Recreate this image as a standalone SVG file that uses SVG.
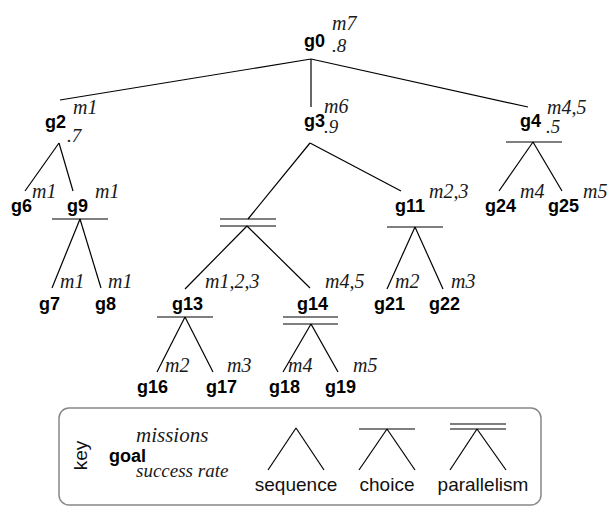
<svg xmlns="http://www.w3.org/2000/svg" width="614" height="508" viewBox="0 0 614 508">
<style>
.g{font-family:"Liberation Sans",Arial,sans-serif;font-weight:bold;font-size:18px;fill:#000}
.m{font-family:"Liberation Serif","Times New Roman",serif;font-style:italic;font-size:20px;fill:#1a1a1a}
.r{font-family:"Liberation Serif","Times New Roman",serif;font-style:italic;font-size:19px;fill:#1a1a1a}
.k{font-family:"Liberation Sans",Arial,sans-serif;font-size:19px;fill:#111}
line{stroke:#000;stroke-width:1.2;fill:none}
</style>
<rect width="614" height="508" fill="#fff"/>
<g id="connectors">
<line x1="311" y1="59" x2="60" y2="100"/>
<line x1="311" y1="59" x2="311" y2="107"/>
<line x1="311" y1="59" x2="528" y2="107"/>
<line x1="59" y1="143" x2="25" y2="191"/>
<line x1="59" y1="143" x2="73" y2="191"/>
<line x1="310" y1="143" x2="248" y2="219"/>
<line x1="310" y1="143" x2="401" y2="191"/>
<line x1="506" y1="142" x2="562" y2="142"/>
<line x1="533" y1="142" x2="499" y2="191"/>
<line x1="533" y1="142" x2="562" y2="191"/>
<line x1="52" y1="219" x2="108" y2="219"/>
<line x1="80" y1="219" x2="52" y2="288"/>
<line x1="80" y1="219" x2="101" y2="288"/>
<line x1="220" y1="219" x2="276" y2="219"/>
<line x1="220" y1="226" x2="276" y2="226"/>
<line x1="247" y1="226" x2="185" y2="289"/>
<line x1="247" y1="226" x2="310" y2="288"/>
<line x1="387" y1="227" x2="443" y2="227"/>
<line x1="415" y1="227" x2="387" y2="289"/>
<line x1="415" y1="227" x2="443" y2="289"/>
<line x1="157" y1="317" x2="213" y2="317"/>
<line x1="185" y1="317" x2="157" y2="372"/>
<line x1="185" y1="317" x2="213" y2="372"/>
<line x1="283" y1="317" x2="338" y2="317"/>
<line x1="283" y1="324" x2="338" y2="324"/>
<line x1="311" y1="324" x2="283" y2="372"/>
<line x1="311" y1="324" x2="338" y2="372"/>
</g>
<g id="g0"><text class="g" x="304" y="47">g0</text><text class="m" x="332" y="30">m7</text><text class="r" x="332" y="52">.8</text></g>
<g id="g2"><text class="g" x="45" y="128">g2</text><text class="m" x="73" y="114">m1</text><text class="r" x="67" y="142">.7</text></g>
<g id="g3"><text class="g" x="304" y="127">g3</text><text class="m" x="324" y="113">m6</text><text class="r" x="324" y="133">.9</text></g>
<g id="g4"><text class="g" x="520" y="127">g4</text><text class="m" x="547" y="114">m4,5</text><text class="r" x="546" y="133">.5</text></g>
<g id="g6"><text class="g" x="11" y="212">g6</text><text class="m" x="32" y="198">m1</text></g>
<g id="g9"><text class="g" x="67" y="212">g9</text><text class="m" x="95" y="198">m1</text></g>
<g id="g11"><text class="g" x="395" y="212">g11</text><text class="m" x="429" y="198">m2,3</text></g>
<g id="g24"><text class="g" x="485" y="212">g24</text><text class="m" x="520" y="198">m4</text></g>
<g id="g25"><text class="g" x="548" y="212">g25</text><text class="m" x="583" y="198">m5</text></g>
<g id="g7"><text class="g" x="39" y="310">g7</text><text class="m" x="60" y="288">m1</text></g>
<g id="g8"><text class="g" x="95" y="310">g8</text><text class="m" x="108" y="288">m1</text></g>
<g id="g13"><text class="g" x="172" y="310">g13</text><text class="m" x="205" y="288">m1,2,3</text></g>
<g id="g14"><text class="g" x="297" y="310">g14</text><text class="m" x="325" y="288">m4,5</text></g>
<g id="g21"><text class="g" x="374" y="310">g21</text><text class="m" x="395" y="288">m2</text></g>
<g id="g22"><text class="g" x="429" y="310">g22</text><text class="m" x="451" y="288">m3</text></g>
<g id="g16"><text class="g" x="137" y="393">g16</text><text class="m" x="165" y="372">m2</text></g>
<g id="g17"><text class="g" x="206" y="393">g17</text><text class="m" x="227" y="372">m3</text></g>
<g id="g18"><text class="g" x="269" y="393">g18</text><text class="m" x="288" y="372">m4</text></g>
<g id="g19"><text class="g" x="325" y="393">g19</text><text class="m" x="353" y="372">m5</text></g>
<g id="key">
<rect x="59" y="408" width="482" height="97" rx="10" ry="10" fill="none" stroke="#888" stroke-width="1.5"/>
<text class="k" transform="translate(87,455.5) rotate(-90)" text-anchor="middle">key</text>
<text class="m" x="136" y="442" style="font-size:21px">missions</text>
<text class="g" x="109" y="462">goal</text>
<text class="m" x="136" y="477" style="font-size:19px">success rate</text>
<line x1="296" y1="428" x2="268" y2="470"/>
<line x1="296" y1="428" x2="324" y2="470"/>
<text class="k" x="296" y="491" text-anchor="middle">sequence</text>
<line x1="359" y1="429" x2="415" y2="429"/>
<line x1="387" y1="429" x2="359" y2="470"/>
<line x1="387" y1="429" x2="415" y2="470"/>
<text class="k" x="387" y="491" text-anchor="middle">choice</text>
<line x1="450" y1="424" x2="506" y2="424"/>
<line x1="450" y1="429" x2="506" y2="429"/>
<line x1="477" y1="429" x2="450" y2="470"/>
<line x1="477" y1="429" x2="506" y2="470"/>
<text class="k" x="483" y="491" text-anchor="middle">parallelism</text>
</g>
</svg>
